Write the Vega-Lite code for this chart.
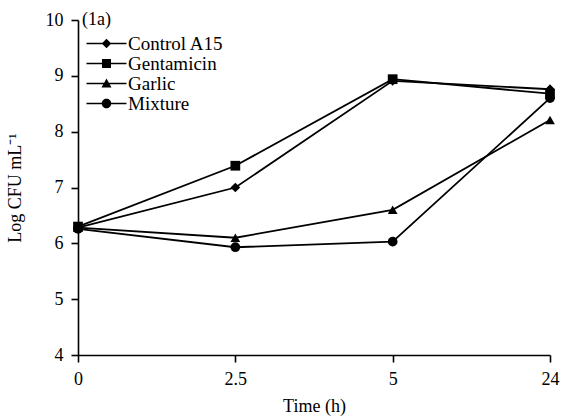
{
  "$schema": "https://vega.github.io/schema/vega-lite/v6.json",
  "width": 472,
  "height": 335,
  "autosize": "none",
  "padding": {"left": 78, "top": 20, "right": 12, "bottom": 64},
  "background": "white",
  "config": {
    "view": {"stroke": null},
    "font": "Liberation Serif",
    "axis": {
      "domainColor": "black", "domainWidth": 1.6, "tickColor": "black", "tickWidth": 1.6,
      "tickSize": 7, "labelColor": "black", "titleColor": "black",
      "labelFont": "Liberation Serif", "titleFont": "Liberation Serif",
      "labelFontSize": 18, "titleFontSize": 18, "titleFontWeight": "normal", "grid": false
    },
    "legend": {"labelFont": "Liberation Serif", "labelFontSize": 19, "labelColor": "black"}
  },
  "data": {
    "values": [
      {"time": "0", "treatment": "Control A15", "value": 6.28},
      {"time": "2.5", "treatment": "Control A15", "value": 7.0},
      {"time": "5", "treatment": "Control A15", "value": 8.91},
      {"time": "24", "treatment": "Control A15", "value": 8.76},
      {"time": "0", "treatment": "Gentamicin", "value": 6.3},
      {"time": "2.5", "treatment": "Gentamicin", "value": 7.39},
      {"time": "5", "treatment": "Gentamicin", "value": 8.94},
      {"time": "24", "treatment": "Gentamicin", "value": 8.68},
      {"time": "0", "treatment": "Garlic", "value": 6.28},
      {"time": "2.5", "treatment": "Garlic", "value": 6.1},
      {"time": "5", "treatment": "Garlic", "value": 6.6},
      {"time": "24", "treatment": "Garlic", "value": 8.21},
      {"time": "0", "treatment": "Mixture", "value": 6.26},
      {"time": "2.5", "treatment": "Mixture", "value": 5.93},
      {"time": "5", "treatment": "Mixture", "value": 6.03},
      {"time": "24", "treatment": "Mixture", "value": 8.6}
    ]
  },
  "encoding": {
    "x": {
      "field": "time", "type": "ordinal", "sort": ["0", "2.5", "5", "24"],
      "scale": {"type": "point", "padding": 0},
      "axis": {"labelAngle": 0, "title": "Time (h)", "labelPadding": 8, "titlePadding": 9}
    },
    "y": {
      "field": "value", "type": "quantitative",
      "scale": {"domain": [4, 10], "nice": false, "zero": false},
      "axis": {"values": [4, 5, 6, 7, 8, 9, 10], "title": "Log CFU mL⁻¹", "labelPadding": 8, "titlePadding": 21}
    }
  },
  "layer": [
    {
      "mark": {"type": "line", "color": "black", "strokeWidth": 1.8},
      "encoding": {"detail": {"field": "treatment"}}
    },
    {
      "mark": {"type": "point", "filled": true, "color": "black", "opacity": 1, "size": 95},
      "encoding": {
        "shape": {
          "field": "treatment", "type": "nominal",
          "scale": {"domain": ["Control A15", "Gentamicin", "Garlic", "Mixture"], "range": ["diamond", "square", "triangle-up", "circle"]},
          "legend": null
        }
      }
    },
    {
      "mark": {"type": "point", "filled": true, "color": "black", "opacity": 0, "size": 100},
      "encoding": {
        "shape": {
          "field": "treatment", "type": "nominal",
          "scale": {
            "domain": ["Control A15", "Gentamicin", "Garlic", "Mixture"],
            "range": [
              "M-4,-0.16H4V0.16H-4ZM-0.95,0L0,-0.95L0.95,0L0,0.95Z",
              "M-4,-0.16H4V0.16H-4ZM-0.9,-0.9H0.9V0.9H-0.9Z",
              "M-4,-0.16H4V0.16H-4ZM0,-1L1,0.8L-1,0.8Z",
              "M-4,-0.16H4V0.16H-4ZM0.95,0A0.95,0.95,0,1,1,-0.95,0A0.95,0.95,0,1,1,0.95,0Z"
            ]
          },
          "legend": {
            "title": null, "orient": "none", "legendX": 19, "legendY": 14,
            "padding": 0, "symbolSize": 100, "symbolOpacity": 1,
            "symbolFillColor": "black", "symbolStrokeColor": "black", "symbolStrokeWidth": 0,
            "labelOffset": 12, "rowPadding": -1
          }
        }
      }
    },
    {
      "data": {"values": [{"time": "0", "value": 10, "label": "(1a)"}]},
      "mark": {"type": "text", "align": "left", "baseline": "middle", "dx": 4, "fontSize": 18, "font": "Liberation Serif", "color": "black"},
      "encoding": {"text": {"field": "label"}}
    }
  ],
  "resolve": {"scale": {"shape": "independent"}}
}
